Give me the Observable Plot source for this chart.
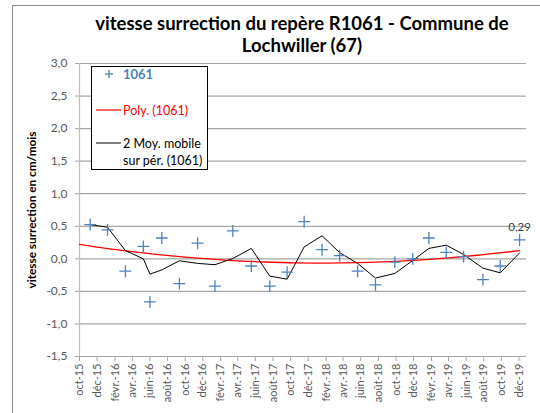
<!DOCTYPE html>
<html><head><meta charset="utf-8">
<script src="https://cdn.jsdelivr.net/npm/d3@7"></script>
<script src="https://cdn.jsdelivr.net/npm/@observablehq/plot@0.6"></script>
<style>
body{margin:0;background:#fff;}
#wrap{position:relative;width:540px;height:413px;overflow:hidden;font-family:Lato,"Open Sans",sans-serif;background:#fff;}
#border{position:absolute;left:12px;top:5px;width:600px;height:600px;border-top:1px solid #8c8c8c;border-left:1px solid #8c8c8c;}
#title{position:absolute;left:62px;width:480px;top:12px;text-align:center;font-weight:bold;font-size:18.5px;line-height:22px;color:#000;}
#ytitle{position:absolute;left:31px;top:210px;transform:translate(-50%,-50%) rotate(-90deg);white-space:nowrap;font-weight:bold;font-size:11.8px;color:#000;}
#chart{position:absolute;left:0;top:0;}
#legend{position:absolute;left:0;top:0;}
#chart svg [aria-label="y-axis tick"], #chart svg [aria-label="x-axis tick"]{stroke:#a6a6a6;}
#chart svg [aria-label="y-axis tick label"]{font-size:12px;}
</style></head><body>
<div id="wrap">
  <div id="border"></div>
  <div id="chart"></div>
  <div id="title">vitesse surrection du repère R1061 - Commune de<br>Lochwiller (67)</div>
  <div id="ytitle">vitesse surrection en cm/mois</div>
  <svg id="legend" width="540" height="413">
    <rect x="91.5" y="66.5" width="116" height="103" fill="#fff" stroke="#000" stroke-width="1"/>
    <g stroke="#4f81bd" stroke-width="1.3"><line x1="105" x2="113" y1="74" y2="74"/><line x1="109" x2="109" y1="70" y2="78"/></g>
    <text x="123" y="78.5" fill="#4f81bd" font-weight="bold" font-size="13">1061</text>
    <line x1="96" x2="121" y1="110" y2="110" stroke="#ff0000" stroke-width="1.2"/>
    <text x="123" y="114.5" fill="#ff0000" font-size="12.5">Poly. (1061)</text>
    <line x1="96" x2="121" y1="143" y2="143" stroke="#000" stroke-width="1"/>
    <text x="123" y="147.5" fill="#000" font-size="12.5">2 Moy. mobile</text>
    <text x="123" y="164.5" fill="#000" font-size="12.5">sur pér. (1061)</text>
  </svg>
</div>
<script>
const dates = ["2015-11-07","2016-01-06","2016-03-08","2016-05-09","2016-06-01","2016-07-12","2016-09-11","2016-11-13","2017-01-12","2017-03-15","2017-05-18","2017-07-21","2017-09-19","2017-11-17","2018-01-18","2018-03-20","2018-05-21","2018-07-22","2018-09-27","2018-11-28","2019-01-23","2019-03-24","2019-05-23","2019-07-29","2019-09-27","2019-12-03"];
const values = [0.525,0.445,-0.19,0.19,-0.66,0.32,-0.38,0.24,-0.42,0.43,-0.11,-0.42,-0.205,0.57,0.14,0.05,-0.19,-0.40,-0.05,0.00,0.32,0.10,0.035,-0.32,-0.11,0.29];
const trendDates = ["2015-10-01","2016-01-01","2016-04-01","2016-07-01","2016-10-01","2017-01-01","2017-04-01","2017-07-01","2017-10-01","2018-01-01","2018-04-01","2018-07-01","2018-10-01","2019-01-01","2019-04-01","2019-07-01","2019-10-01","2019-12-03"];
const trendValues = [0.222,0.16,0.11,0.064,0.025,-0.006,-0.031,-0.049,-0.06,-0.065,-0.063,-0.053,-0.038,-0.015,0.014,0.051,0.094,0.125];
const tickDates = ["2015-10-01","2015-12-01","2016-02-01","2016-04-01","2016-06-01","2016-08-01","2016-10-01","2016-12-01","2017-02-01","2017-04-01","2017-06-01","2017-08-01","2017-10-01","2017-12-01","2018-02-01","2018-04-01","2018-06-01","2018-08-01","2018-10-01","2018-12-01","2019-02-01","2019-04-01","2019-06-01","2019-08-01","2019-10-01","2019-12-01"];
const tickLabels = ["oct-15","déc-15","févr.-16","avr.-16","juin-16","août-16","oct-16","déc-16","févr.-17","avr.-17","juin-17","août-17","oct-17","déc-17","févr.-18","avr.-18","juin-18","août-18","oct-18","déc-18","févr.-19","avr.-19","juin-19","août-19","oct-19","déc-19"];
const yTicks = [-1.5,-1.0,-0.5,0.0,0.5,1.0,1.5,2.0,2.5,3.0];

const fmt = v => v.toFixed(1).replace(".", ",");
const data = dates.map((d, i) => ({date: new Date(d), v: values[i]}));
const trend = trendDates.map((d, i) => ({date: new Date(d), v: trendValues[i]}));
const labelByTime = new Map(tickDates.map((d, i) => [+new Date(d), tickLabels[i]]));
const x0 = new Date("2015-10-01"), x1 = new Date("2019-12-27");

const chart = Plot.plot({
  width: 540, height: 413,
  marginLeft: 79, marginRight: 14, marginTop: 63, marginBottom: 57,
  style: {fontFamily: "Lato, 'Open Sans', sans-serif", fontSize: "11px", color: "#595959", background: "transparent", overflow: "visible"},
  x: {type: "utc", domain: [x0, x1], ticks: tickDates.map(d => new Date(d)), tickFormat: d => labelByTime.get(+d), tickRotate: -90, tickSize: 5, tickPadding: 2, label: null},
  y: {domain: [-1.5, 3], ticks: yTicks, tickFormat: fmt, tickSize: 4, tickPadding: 8, label: null},
  marks: [
    Plot.ruleY(yTicks, {stroke: "#a6a6a6", strokeWidth: 1.2}),
    Plot.ruleX([x0], {stroke: "#bfbfbf", strokeWidth: 1.2}),
    Plot.line(trend, {x: "date", y: "v", stroke: "#ff0000", strokeWidth: 1.3, curve: "natural"}),
    Plot.line(data, Plot.windowY({k: 2, anchor: "end", strict: false}, {x: "date", y: "v", stroke: "#000", strokeWidth: 1})),
    Plot.dot(data, {x: "date", y: "v", symbol: "plus", r: 3.9, stroke: "#4f81bd", strokeWidth: 1.3}),
    Plot.text(data.slice(-1), {x: "date", y: "v", text: d => d.v.toFixed(2).replace(".", ","), dy: -13, fill: "#404040", fontSize: 11.5})
  ]
});
document.getElementById("chart").appendChild(chart);
</script>
</body></html>
